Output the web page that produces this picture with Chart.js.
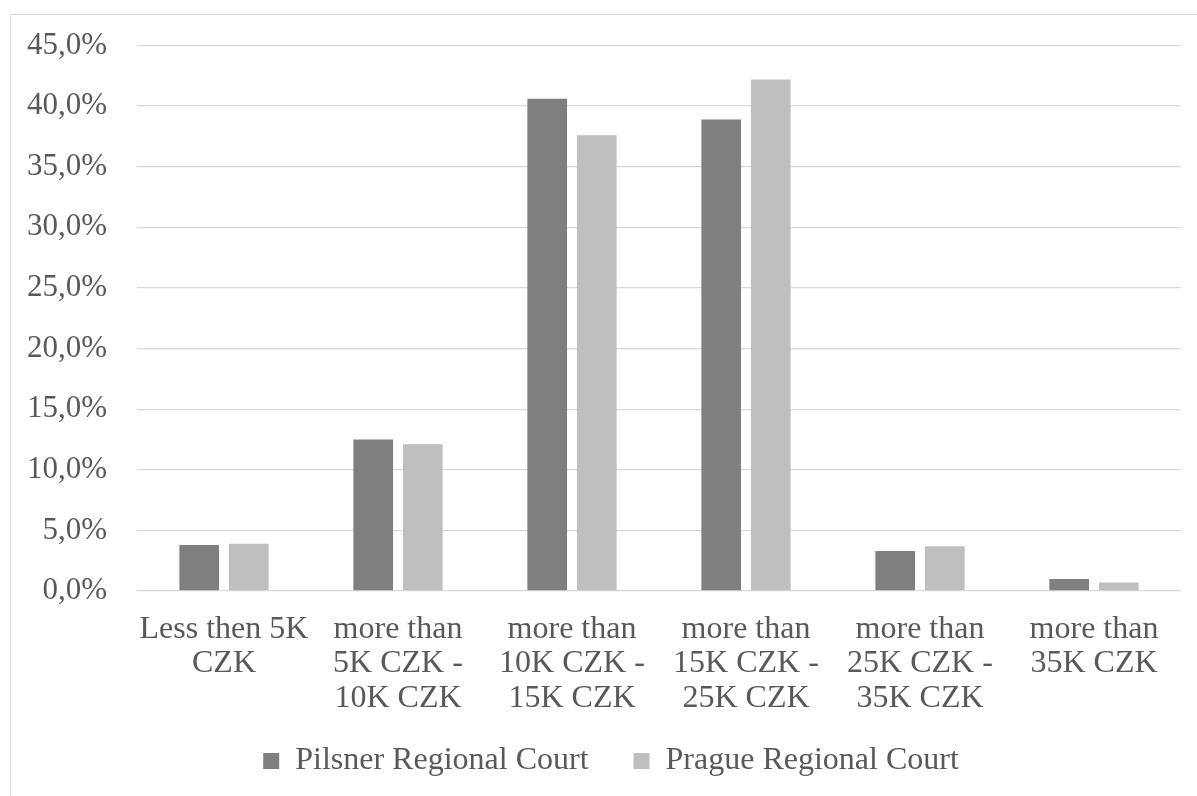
<!DOCTYPE html>
<html>
<head>
<meta charset="utf-8">
<script src="https://cdn.jsdelivr.net/npm/chart.js@4/dist/chart.umd.min.js"></script>
<style>
  html, body { margin: 0; padding: 0; background: #ffffff; }
  body { width: 1197px; height: 796px; position: relative; overflow: hidden; }
  #frame { position: absolute; left: 10px; top: 14px; width: 1200px; height: 800px;
           border-top: 1px solid #d9d9d9; border-left: 1px solid #d9d9d9; }
  #wrap { position: absolute; left: 0; top: 0; width: 1197px; height: 796px; }
</style>
</head>
<body>
<div id="frame"></div>
<div id="wrap"><canvas id="chart" width="1197" height="796"></canvas></div>
<script>
// Monthly income bands
const categories = [
  ["Less then 5K", "CZK"],
  ["more than", "5K CZK -", "10K CZK"],
  ["more than", "10K CZK -", "15K CZK"],
  ["more than", "15K CZK -", "25K CZK"],
  ["more than", "25K CZK -", "35K CZK"],
  ["more than", "35K CZK"]
];
// Share of cases per court, in percent
const pilsner = [3.8, 12.5, 40.6, 38.9, 3.3, 1.0];
const prague  = [3.9, 12.1, 37.6, 42.2, 3.7, 0.7];
const seriesNames = ["Pilsner Regional Court", "Prague Regional Court"];
const yTicks = [0, 5, 10, 15, 20, 25, 30, 35, 40, 45];

const FONT = "'Liberation Serif', 'Times New Roman', serif";
const TEXT = "#595959";
const GRID = "#d9d9d9";

// Moves the legend row a little so it sits closer under the axis labels
// while keeping wide spacing between the two entries.
const legendOffset = {
  id: "legendOffset",
  afterLayout(chart) {
    const lg = chart.legend;
    if (!lg) return;
    lg.left += 7; lg.right += 7;
    lg.top -= 15; lg.bottom -= 15;
  }
};

new Chart(document.getElementById("chart"), {
  type: "bar",
  data: {
    labels: categories,
    datasets: [
      { label: seriesNames[0], data: pilsner, backgroundColor: "#7f7f7f",
        barPercentage: 0.8, categoryPercentage: 0.57 },
      { label: seriesNames[1], data: prague, backgroundColor: "#bfbfbf",
        barPercentage: 0.8, categoryPercentage: 0.57 }
    ]
  },
  plugins: [legendOffset],
  options: {
    responsive: false,
    animation: false,
    layout: { padding: { left: 27, right: 16, top: 24, bottom: -6 } },
    plugins: {
      tooltip: { enabled: false },
      legend: {
        position: "bottom",
        labels: {
          font: { family: FONT, size: 32 },
          color: TEXT,
          boxWidth: 16,
          boxHeight: 16,
          padding: 45
        }
      }
    },
    scales: {
      x: {
        grid: { display: false },
        border: { display: false },
        afterFit: (axis) => { axis.height = 124; },
        ticks: {
          font: { family: FONT, size: 32, lineHeight: 1.08 },
          color: TEXT,
          maxRotation: 0,
          autoSkip: false,
          padding: 13
        }
      },
      y: {
        min: 0,
        max: 45,
        afterBuildTicks: (axis) => { axis.ticks = yTicks.map(v => ({ value: v })); },
        afterFit: (axis) => { axis.width = 110; },
        grid: { color: GRID, lineWidth: 1.3, drawTicks: false },
        border: { display: false },
        ticks: {
          font: { family: FONT, size: 31, lineHeight: 1.0 },
          color: TEXT,
          padding: 30,
          callback: (v) => v.toFixed(1).replace(".", ",") + "%"
        }
      }
    }
  }
});
</script>
</body>
</html>
